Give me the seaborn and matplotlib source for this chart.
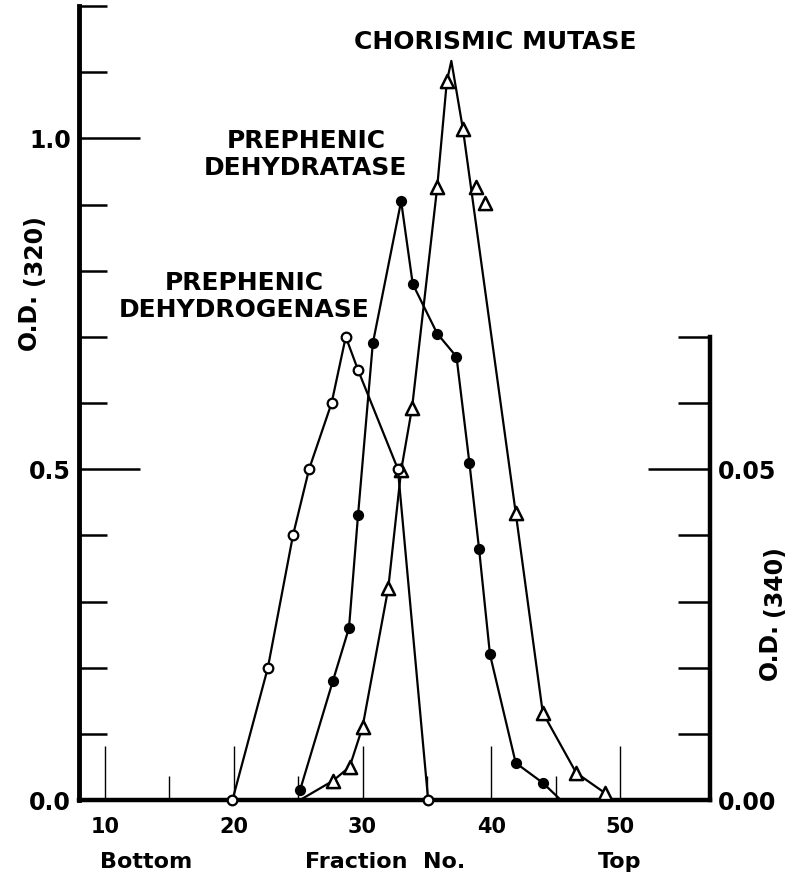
import seaborn as sns
import matplotlib.pyplot as plt
from matplotlib.ticker import FixedLocator, FormatStrFormatter

# prephenic dehydrogenase, read against the right axis O.D.(340)
dehydrogenase_frac = [19.9, 22.65, 24.6, 25.85, 27.6, 28.7, 29.65, 32.75, 35.1]
dehydrogenase_od340 = [0.000, 0.020, 0.040, 0.050, 0.060, 0.070, 0.065, 0.050, 0.000]

# prephenic dehydratase, left axis O.D.(320)
dehydratase_frac = [25.15, 27.7, 28.95, 29.65, 30.8, 33.0, 33.9, 35.8, 37.3,
                    38.3, 39.05, 39.9, 41.9, 44.0]
dehydratase_od320 = [0.015, 0.18, 0.26, 0.43, 0.69, 0.905, 0.78, 0.705, 0.67,
                     0.51, 0.38, 0.22, 0.056, 0.026]
dehydratase_end_frac = 45.4   # curve runs down to the baseline here
dehydratase_end_od = 0.0

# chorismic mutase, left axis O.D.(320)
mutase_frac = [27.7, 29.0, 30.0, 32.0, 33.0, 33.85, 35.8, 36.55, 37.8, 38.8,
               39.5, 41.9, 44.0, 46.6, 48.8]
mutase_od320 = [0.029, 0.05, 0.11, 0.32, 0.498, 0.593, 0.926, 1.086, 1.014,
                0.926, 0.903, 0.434, 0.132, 0.041, 0.011]
# points the hand-drawn curve passes through (start, peak, measured points)
mutase_curve_frac = [25.15, 27.7, 29.0, 30.0, 32.0, 33.0, 33.85, 35.8, 36.55,
                     36.9, 37.8, 41.9, 44.0, 46.6, 48.8]
mutase_curve_od = [0.0, 0.029, 0.05, 0.11, 0.32, 0.498, 0.593, 0.926, 1.086,
                   1.117, 1.014, 0.434, 0.132, 0.041, 0.011]

x_major = [10, 20, 30, 40, 50]
x_minor = [15, 25, 35, 45]
left_major = [0.0, 0.5, 1.0]
left_minor = [0.1, 0.2, 0.3, 0.4, 0.6, 0.7, 0.8, 0.9, 1.1, 1.2]
right_major = [0.00, 0.05]
right_minor = [0.01, 0.02, 0.03, 0.04, 0.06, 0.07]

sns.set_theme(style="ticks", rc={
    "axes.edgecolor": "black", "xtick.color": "black", "ytick.color": "black",
    "text.color": "black", "axes.labelcolor": "black",
})
plt.rcParams["font.family"] = ["DejaVu Sans"]
plt.rcParams["font.weight"] = "bold"

W, H = 799, 874
fig = plt.figure(figsize=(W / 100, H / 100), dpi=100)
ax = fig.add_axes([79 / W, 74 / H, 631 / W, 794 / H])
ax.set_xlim(7.98, 56.99)
ax.set_ylim(0, 1.2)
ax2 = ax.twinx()
ax2.set_ylim(0, 0.12)

line_kw = dict(color="black", linewidth=1.6, sort=False, estimator=None,
               legend=False)

# dehydratase (filled circles)
sns.lineplot(x=dehydratase_frac + [dehydratase_end_frac],
             y=dehydratase_od320 + [dehydratase_end_od], ax=ax, **line_kw)
sns.scatterplot(x=dehydratase_frac, y=dehydratase_od320, ax=ax, marker="o",
                s=50, color="black", edgecolor="black", linewidth=1,
                zorder=5, clip_on=False, legend=False)

# chorismic mutase (open triangles)
sns.lineplot(x=mutase_curve_frac, y=mutase_curve_od, ax=ax, **line_kw)
sns.scatterplot(x=mutase_frac, y=mutase_od320, ax=ax, marker="^", s=90,
                facecolor="white", edgecolor="black", linewidth=1.8,
                zorder=6, clip_on=False, legend=False)

# dehydrogenase (open circles) on the O.D.(340) scale
sns.lineplot(x=dehydrogenase_frac, y=dehydrogenase_od340, ax=ax2, **line_kw)
sns.scatterplot(x=dehydrogenase_frac, y=dehydrogenase_od340, ax=ax2,
                marker="o", s=48, facecolor="white", edgecolor="black",
                linewidth=1.6, zorder=6, clip_on=False, legend=False)

# spines
for side in ["top", "right"]:
    ax.spines[side].set_visible(False)
for side in ["top", "left", "bottom"]:
    ax2.spines[side].set_visible(False)
ax.spines["left"].set_linewidth(3.5)
ax.spines["bottom"].set_linewidth(3.2)
ax2.spines["right"].set_linewidth(3.2)
ax2.spines["right"].set_bounds(0, 0.07)

# x ticks point up into the plot
ax.xaxis.set_major_locator(FixedLocator(x_major))
ax.xaxis.set_minor_locator(FixedLocator(x_minor))
ax.tick_params(axis="x", which="major", direction="in", length=39, width=1.0,
               pad=12, labelsize=15, top=False, bottom=True)
ax.tick_params(axis="x", which="minor", direction="in", length=17, width=1.0,
               top=False, bottom=True)

ax.yaxis.set_major_locator(FixedLocator(left_major))
ax.yaxis.set_minor_locator(FixedLocator(left_minor))
ax.yaxis.set_major_formatter(FormatStrFormatter("%.1f"))
ax.tick_params(axis="y", which="major", direction="in", length=44, width=1.8,
               pad=6, labelsize=17, left=True, right=False)
ax.tick_params(axis="y", which="minor", direction="in", length=20, width=1.8,
               left=True, right=False)

ax2.yaxis.set_major_locator(FixedLocator(right_major))
ax2.yaxis.set_minor_locator(FixedLocator(right_minor))
ax2.yaxis.set_major_formatter(FormatStrFormatter("%.2f"))
ax2.tick_params(axis="y", which="major", direction="in", length=45, width=1.8,
                pad=6, labelsize=17, left=False, right=True)
ax2.tick_params(axis="y", which="minor", direction="in", length=23, width=1.8,
                left=False, right=True)
for lab in ax.get_xticklabels() + ax.get_yticklabels() + ax2.get_yticklabels():
    lab.set_fontweight("bold")

ax.set_xlabel("")
ax.set_ylabel("")
ax2.set_ylabel("")

# curve labels
ax.text(40.3, 1.145, "CHORISMIC MUTASE", ha="center", va="center",
        fontsize=18, fontweight="bold")
ax.text(25.6, 0.976, "PREPHENIC\nDEHYDRATASE", ha="center", va="center",
        fontsize=18, fontweight="bold", linespacing=1.15)
ax.text(20.8, 0.761, "PREPHENIC\nDEHYDROGENASE", ha="center", va="center",
        fontsize=18, fontweight="bold", linespacing=1.15)

# axis titles
fig.text(29 / W, 1 - 322 / H, "O.D.", rotation=90, ha="center", va="center",
         fontsize=17, fontweight="bold")
fig.text(34 / W, 1 - 250 / H, "(320)", rotation=90, ha="center", va="center",
         fontsize=17, fontweight="bold")
fig.text(770 / W, 1 - 652 / H, "O.D.", rotation=90, ha="center", va="center",
         fontsize=17, fontweight="bold")
fig.text(774 / W, 1 - 581 / H, "(340)", rotation=90, ha="center", va="center",
         fontsize=17, fontweight="bold")
fig.text(146 / W, 1 - 862 / H, "Bottom", ha="center", va="center",
         fontsize=16, fontweight="bold")
fig.text(385 / W, 1 - 862 / H, "Fraction  No.", ha="center", va="center",
         fontsize=16, fontweight="bold")
fig.text(620 / W, 1 - 862 / H, "Top", ha="center", va="center",
         fontsize=16, fontweight="bold")

fig.savefig("out.png", dpi=100, facecolor="white")
